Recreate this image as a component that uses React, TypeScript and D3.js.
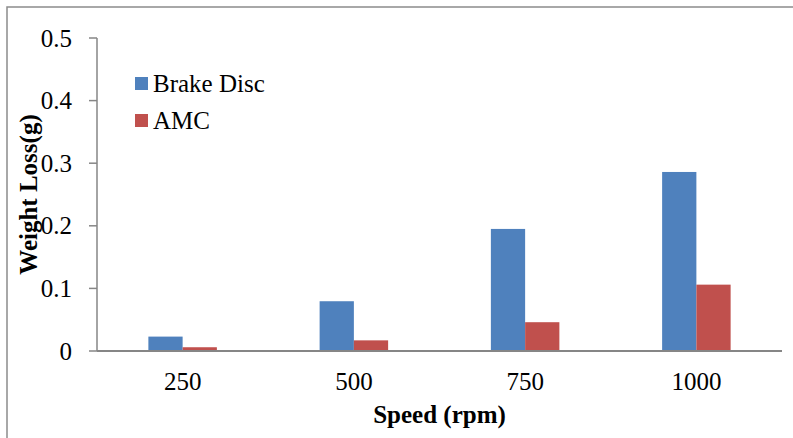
import React from 'react';
import * as d3 from 'd3';

// chart data
const speeds = ['250', '500', '750', '1000'];
const brakeDisc = [0.023, 0.0795, 0.195, 0.286];
const amc = [0.006, 0.017, 0.046, 0.106];
const yTicks = [0, 0.1, 0.2, 0.3, 0.4, 0.5];
const seriesNames = ['Brake Disc', 'AMC'];
const seriesColors = ['#4F81BD', '#C0504D'];

const W = 793;
const H = 438;
const margin = { left: 97, right: 11, top: 38, bottom: 87 };
const font = '"Liberation Serif", "Times New Roman", serif';

const App = () => {
  const x = d3.scaleBand<string>()
    .domain(speeds)
    .range([margin.left, W - margin.right])
    .padding(0);
  const y = d3.scaleLinear()
    .domain([0, 0.5])
    .range([H - margin.bottom, margin.top]);

  const barW = x.bandwidth() * 0.2;
  const series = [brakeDisc, amc];
  const axisColor = '#868686';

  return (
    <div style={{ position: 'absolute', left: 0, top: 0 }}>
      <svg width={W} height={H} style={{ display: 'block', background: '#fff' }}>
        {/* outer chart border (extends past right/bottom of the frame) */}
        <rect x={7} y={7} width={W + 10} height={H + 10} fill="none" stroke="#8c8c8c" strokeWidth={1.5} />

        {/* bars */}
        {series.map((vals, si) =>
          vals.map((v, i) => {
            const cx = (x(speeds[i]) as number) + x.bandwidth() / 2;
            const bx = cx - barW + si * barW;
            return (
              <rect
                key={`${si}-${i}`}
                x={bx}
                y={y(v)}
                width={barW}
                height={y(0) - y(v)}
                fill={seriesColors[si]}
              />
            );
          })
        )}

        {/* y axis */}
        <line x1={margin.left} x2={margin.left} y1={y(0.5)} y2={y(0)} stroke={axisColor} strokeWidth={1.5} />
        {yTicks.map((t) => (
          <g key={t}>
            <line x1={margin.left - 8} x2={margin.left} y1={y(t)} y2={y(t)} stroke={axisColor} strokeWidth={1.5} />
            <text
              x={72}
              y={y(t)}
              dy="0.34em"
              textAnchor="end"
              fontFamily={font}
              fontSize={25}
              fill="#000"
            >
              {d3.format('')(t)}
            </text>
          </g>
        ))}

        {/* x axis */}
        <line x1={margin.left} x2={W - margin.right} y1={y(0)} y2={y(0)} stroke={axisColor} strokeWidth={2} />
        {speeds.map((s) => (
          <text
            key={s}
            x={(x(s) as number) + x.bandwidth() / 2}
            y={390}
            textAnchor="middle"
            fontFamily={font}
            fontSize={25}
            fill="#000"
          >
            {s}
          </text>
        ))}

        {/* axis titles */}
        <text
          x={margin.left + (W - margin.right - margin.left) / 2}
          y={423}
          textAnchor="middle"
          fontFamily={font}
          fontSize={25}
          fontWeight="bold"
          fill="#000"
        >
          Speed (rpm)
        </text>
        <text
          transform={`translate(37, ${(y(0) + y(0.5)) / 2}) rotate(-90)`}
          textAnchor="middle"
          fontFamily={font}
          fontSize={25}
          fontWeight="bold"
          fill="#000"
        >
          Weight Loss(g)
        </text>

        {/* legend */}
        {seriesNames.map((n, i) => (
          <g key={n} transform={`translate(135, ${77 + i * 37})`}>
            <rect x={0} y={0} width={13} height={13} fill={seriesColors[i]} />
            <text x={18} y={14.5} fontFamily={font} fontSize={25} fill="#000">
              {n}
            </text>
          </g>
        ))}
      </svg>
    </div>
  );
};

export default App;
